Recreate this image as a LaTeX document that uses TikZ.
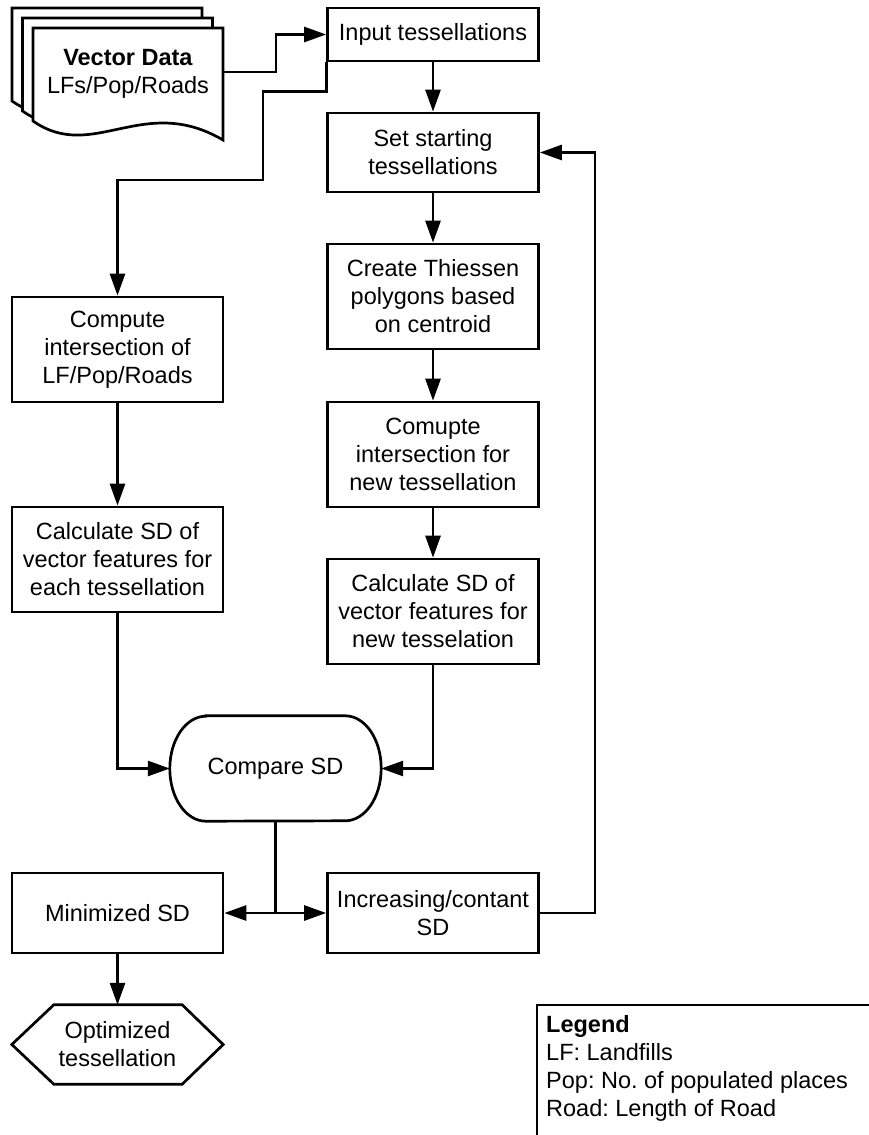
\documentclass[tikz,border=0pt]{standalone}
\usepackage{fontspec}
\setmainfont{Liberation Sans}
\usetikzlibrary{arrows.meta}
\frenchspacing
\tikzset{
  lw/.style={line width=2.7pt},
  box/.style={draw, lw, align=center, inner sep=0pt, minimum width=211pt,
    font=\fontsize{23.5}{28}\selectfont},
  ghost/.style={align=center, inner sep=0pt, minimum width=211pt,
    font=\fontsize{23.5}{28}\selectfont},
  sheet/.style={draw, fill=white, lw},
  conn/.style={lw},
  arr/.style={lw, -{Triangle[length=22pt,width=15pt]}},
}
\begin{document}
\begin{tikzpicture}[x=1pt,y=-1pt,line join=miter]
\useasboundingbox[fill=white] (0,0) rectangle (869,1135);

% document stack
\foreach \dx/\dy in {12/8, 22.5/18, 33/28}{
  \draw[sheet, shift={(\dx,\dy)}] (0,0) -- (190,0) -- (190,112)
     .. controls (110,65) and (60,135) .. (0,93) -- cycle;
}
\node[ghost, minimum width=0pt] (vd) at (128,73.5) {\textbf{Vector Data}\\LFs/Pop/Roads};
\coordinate (docR) at (223,72);

% right column
\node[box, minimum height=53pt] (inp) at (433,34.5) {Input tessellations};
\node[box, minimum height=79pt] (set) at (433,152.5) {Set starting\\tessellations};
\node[box, minimum height=105pt] (thi) at (433,296.5) {Create Thiessen\\polygons based\\on centroid};
\node[box, minimum height=105pt] (cmu) at (433,454.5) {Comupte\\intersection for\\new tessellation};
\node[box, minimum height=105pt] (calr) at (433,611.5) {Calculate SD of\\vector features for\\new tesselation};

% left column
\node[box, minimum height=105pt] (cmpi) at (117.5,349.5) {Compute\\intersection of\\LF/Pop/Roads};
\node[box, minimum height=105pt] (call) at (117.5,559.5) {Calculate SD of\\vector features for\\each tessellation};

% compare (stadium)
\node[ghost, minimum height=105pt] (cmp) at (275.5,768.5) {Compare SD};
\draw[lw] ([xshift=36pt]cmp.north west) -- ([xshift=-36pt]cmp.north east)
   arc[start angle=90, end angle=-90, x radius=36pt, y radius=52.5pt]
   -- ([xshift=36pt]cmp.south west)
   arc[start angle=270, end angle=90, x radius=36pt, y radius=52.5pt] -- cycle;

% bottom
\node[box, minimum height=80pt] (min) at (117.5,913) {Minimized SD};
\node[box, minimum height=80pt] (inc) at (433,913) {Increasing/contant\\SD};
\node[ghost, minimum height=79pt] (opt) at (117.5,1044.5) {Optimized\\tessellation};
\draw[lw] (opt.west) -- ([xshift=42pt]opt.north west) -- ([xshift=-41pt]opt.north east)
   -- (opt.east) -- ([xshift=-41pt]opt.south east) -- ([xshift=42pt]opt.south west) -- cycle;

% legend
\draw[lw] (537,1136) -- (537,1005) -- (870,1005);
\node[anchor=north west, align=left, inner sep=0pt,
  font=\fontsize{23.5}{28}\selectfont] (leg) at (546,1015)
  {\textbf{Legend}\\LF: Landfills\\Pop: No. of populated places\\Road: Length of Road};

% connectors
\draw[arr] (docR) -- ++(53,0) |- (inp.west);
\draw[arr] (inp.south west) -- ++(0,29) -| (263,180) -| (cmpi.north);
\draw[arr] (inp.south) -- (set.north);
\draw[arr] (set.south) -- (thi.north);
\draw[arr] (thi.south) -- (cmu.north);
\draw[arr] (cmu.south) -- (calr.north);
\draw[arr] (cmpi.south) -- (call.north);
\draw[arr] (call.south) |- (cmp.west);
\draw[arr] (calr.south) |- (cmp.east);
\coordinate (split) at (cmp.south |- min.east);
\draw[conn] (cmp.south) -- (split);
\draw[arr] (split) -- (min.east);
\draw[arr] (split) -- (inc.west);
\draw[arr] (inc.east) -- ++(55,0) |- (set.east);
\draw[arr] (min.south) -- (opt.north);
\end{tikzpicture}
\end{document}
